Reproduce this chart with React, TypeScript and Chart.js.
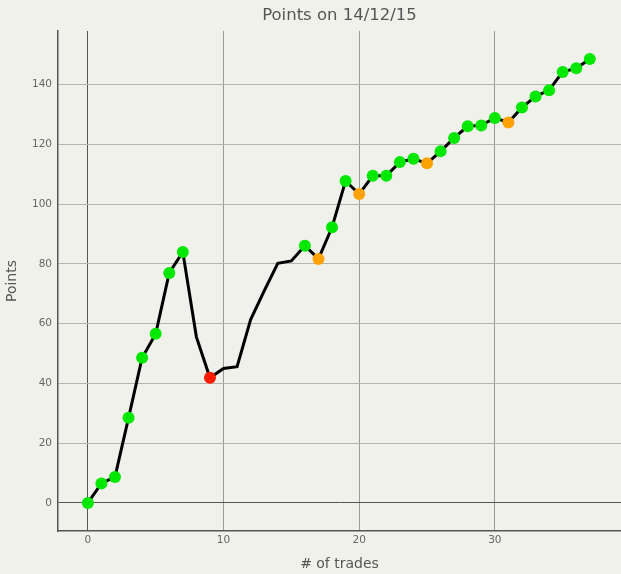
import React, { useEffect, useRef } from "react";
import { Chart, registerables } from "chart.js";

Chart.register(...registerables);

const trades = [0, 1, 2, 3, 4, 5, 6, 7, 8, 9, 10, 11, 12, 13, 14, 15, 16, 17, 18, 19, 20, 21, 22, 23, 24, 25, 26, 27, 28, 29, 30, 31, 32, 33, 34, 35, 36, 37];
const points = [0, 6.5, 8.7, 28.5, 48.6, 56.6, 77.0, 84.0, 55.6, 41.9, 45.0, 45.6, 61.4, 71.0, 80.2, 81.0, 86.1, 81.7, 92.3, 107.8, 103.4, 109.5, 109.5, 114.1, 115.2, 113.7, 117.7, 122.2, 126.1, 126.4, 128.9, 127.4, 132.4, 136.1, 138.2, 144.3, 145.5, 148.6];
// g = green, o = orange, r = red, n = no marker
const status = ["g", "g", "g", "g", "g", "g", "g", "g", "n", "r", "n", "n", "n", "n", "n", "n", "g", "o", "g", "g", "o", "g", "g", "g", "g", "o", "g", "g", "g", "g", "g", "o", "g", "g", "g", "g", "g", "g"];
const xTicks = [0, 10, 20, 30];
const yTicks = [0, 20, 40, 60, 80, 100, 120, 140];

const statusColor: Record<string, string> = {
  g: "#00e800",
  o: "#ffa200",
  r: "#ff1a00",
  n: "rgba(0,0,0,0)",
};

const BG = "#f1f1ec";
const FONT = "'DejaVu Sans', Verdana, sans-serif";

export default function App() {
  const ref = useRef<HTMLCanvasElement>(null);
  useEffect(() => {
    document.body.style.margin = "0";
    document.body.style.background = BG;
    const ctx = ref.current!;
    const chart = new Chart(ctx, {
      type: "line",
      data: {
        datasets: [
          {
            data: trades.map((t, i) => ({ x: t, y: points[i] })),
            borderColor: "#000",
            borderWidth: 3,
            tension: 0,
            pointRadius: status.map((s) => (s === "n" ? 0 : 6)),
            pointBackgroundColor: status.map((s) => statusColor[s]),
            pointBorderColor: status.map((s) => statusColor[s]),
            pointBorderWidth: 0,
            clip: false,
          },
        ],
      },
      options: {
        animation: false,
        responsive: false,
        devicePixelRatio: 1,
        layout: { padding: 0, autoPadding: false },
        plugins: {
          legend: { display: false },
          tooltip: { enabled: false },
          title: {
            display: true,
            text: "Points on 14/12/15",
            fullSize: false,
            color: "#555",
            font: { family: FONT, size: 16.5, weight: "normal", lineHeight: 1.2 },
            padding: { top: 6, bottom: 5.2 },
          },
        },
        scales: {
          x: {
            type: "linear",
            min: -2.2,
            max: 39.3,
            afterBuildTicks: (s: any) => {
              s.ticks = xTicks.map((v) => ({ value: v }));
            },
            afterFit: (s: any) => {
              s.height = 43;
            },
            grid: {
              drawTicks: false,
              color: (c: any) => (c.tick && c.tick.value === 0 ? "#555" : "#9a9a9a"),
              lineWidth: 1,
            },
            border: { color: "#555", width: 1.5 },
            ticks: {
              padding: 3,
              color: "#666",
              font: { family: FONT, size: 10.5 },
              maxRotation: 0,
            },
            title: {
              display: true,
              text: "# of trades",
              color: "#555",
              font: { family: FONT, size: 14 },
              padding: { top: 0, bottom: 1.5 },
            },
          },
          y: {
            type: "linear",
            min: -9.4,
            max: 158,
            afterBuildTicks: (s: any) => {
              s.ticks = yTicks.map((v) => ({ value: v }));
            },
            afterFit: (s: any) => {
              s.width = 58;
            },
            grid: {
              drawTicks: false,
              color: (c: any) => (c.tick && c.tick.value === 0 ? "#555" : "#b4b4b0"),
              lineWidth: 1,
            },
            border: { color: "#555", width: 1.5 },
            ticks: {
              padding: 6,
              color: "#666",
              font: { family: FONT, size: 10.5 },
            },
            title: {
              display: true,
              text: "Points",
              color: "#555",
              font: { family: FONT, size: 14 },
              padding: { top: 3.5, bottom: 0 },
            },
          },
        },
      },
    });
    return () => chart.destroy();
  }, []);
  return (
    <div style={{ position: "absolute", left: 0, top: 0, width: 621, height: 574, background: BG }}>
      <canvas ref={ref} width={621} height={574} style={{ display: "block" }} />
    </div>
  );
}
